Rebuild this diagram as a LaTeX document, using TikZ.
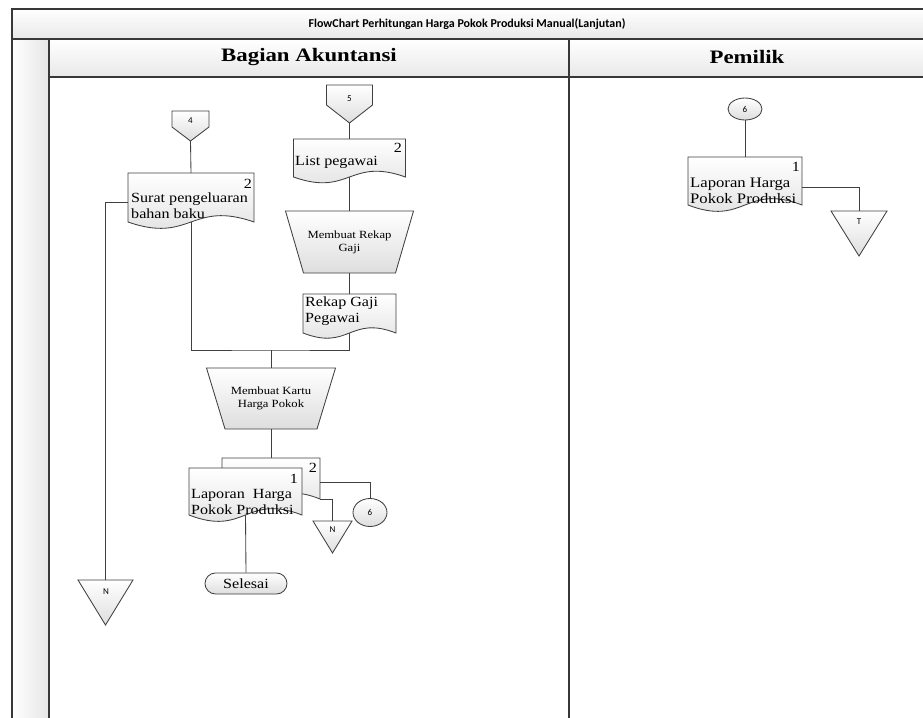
\documentclass[tikz,border=0pt]{standalone}
\usepackage{fontspec}
\setmainfont{Liberation Serif}
\newfontfamily\docfont[FakeStretch=1.15]{Liberation Serif}
\newfontfamily\headfont[FakeStretch=1.2]{Liberation Serif}
\newfontfamily\calfont{Carlito}
\usetikzlibrary{calc,shapes.geometric,shapes.misc}
\pgfdeclarelayer{frame}
\pgfdeclarelayer{bg}
\pgfsetlayers{frame,bg,main}

\tikzset{
  frameline/.style={draw=black!78, line width=1.8pt},
  wire/.style={draw=black!75, line width=0.85pt},
  shapefill/.style={draw=black!75, line width=0.85pt, top color=white, bottom color=black!13},
  box/.style={inner sep=0pt, outer sep=0pt},
  doctxt/.style={inner sep=0pt, anchor=west, align=left, font=\docfont\fontsize{14}{16}\selectfont},
  numtxt/.style={inner sep=0pt, font=\docfont\fontsize{14}{16}\selectfont},
  proctxt/.style={box, align=center, font=\docfont\fontsize{11}{13}\selectfont},
  conntxt/.style={inner sep=0pt, font=\calfont\fontsize{9}{10}\selectfont},
  ellnode/.style={ellipse, shapefill, inner sep=0pt, font=\calfont\fontsize{9}{10}\selectfont},
  endnode/.style={rounded rectangle, rounded rectangle arc length=180, shapefill, inner sep=0pt,
    minimum width=82, minimum height=21, font=\docfont\fontsize{14}{16}\selectfont},
  titletxt/.style={inner sep=0pt, font=\calfont\bfseries\fontsize{12}{14}\selectfont},
  lanetxt/.style={inner sep=0pt, font=\headfont\bfseries\fontsize{19}{22}\selectfont},
}

% document symbol with a wavy lower edge
\newcommand\docpath[2]{\path[shapefill] (#1.north west) -- (#1.north east) -- (#1.south east)
  .. controls ($(#1.south)+(0,-#2)$) and ($(#1.south)+(0,#2)$) .. (#1.south west) -- cycle;}
% manual operation (trapezoid narrowing downwards)
\newcommand\trappath[2]{\path[shapefill] (#1.north west) -- (#1.north east)
  -- ($(#1.south east)+(-#2,0)$) -- ($(#1.south west)+(#2,0)$) -- cycle;}
% archive triangle
\newcommand\tripath[1]{\path[shapefill] (#1.north west) -- (#1.north east) -- (#1.south) -- cycle;}
% off-page connector
\newcommand\offpath[2]{\path[shapefill] (#1.north west) -- (#1.north east)
  -- ($(#1.north east)+(0,#2)$) -- (#1.south) -- ($(#1.north west)+(0,#2)$) -- cycle;}

\begin{document}
\begin{tikzpicture}[x=1pt,y=-1pt]
\useasboundingbox (0,0) rectangle (923,717);
\clip (0,0) rectangle (923,717);

% swimlane frame
\begin{pgfonlayer}{frame}
  \fill[top color=white, bottom color=black!9] (12,9) rectangle (940,39);
  \fill[top color=white, bottom color=black!9] (49,39) rectangle (940,77);
  \fill[left color=white, right color=black!10] (12,39) rectangle (49,740);
  \draw[frameline] (940,9) -- (12,9) -- (12,740);
  \draw[frameline] (12,39) -- (940,39);
  \draw[frameline] (49,39) -- (49,740);
  \draw[frameline] (49,77) -- (940,77);
  \draw[frameline] (569,39) -- (569,740);
\end{pgfonlayer}

\node[titletxt] (title) at (467,24) {FlowChart Perhitungan Harga Pokok Produksi Manual(Lanjutan)};
\node[lanetxt] (laneA) at (309,57) {Bagian Akuntansi};
\node[lanetxt] (laneB) at (747,57) {Pemilik};

% Bagian Akuntansi
\node[box, minimum width=37, minimum height=30] (off4) at (190.5,126) {};
\node[conntxt] (off4t) at (190.5,121) {4};
\node[box, minimum width=126, minimum height=49] (surat) at (191,197.5) {};
\node[doctxt] (suratT) at (131,205.5) {Surat pengeluaran\\bahan baku};
\node[numtxt] (suratN) at (248,184) {2};
\node[box, minimum width=55, minimum height=45] (nLeft) at (105.5,602.5) {};
\node[conntxt] (nLeftT) at (106,592) {N};

\node[box, minimum width=46, minimum height=38] (off5) at (349.5,104) {};
\node[conntxt] (off5t) at (349.5,99) {5};
\node[box, minimum width=112, minimum height=38] (list) at (349.5,158) {};
\node[doctxt] (listT) at (295,162) {List pegawai};
\node[numtxt] (listN) at (398,148) {2};
\node[proctxt, minimum width=128, minimum height=62] (rekapP) at (349.5,242) {Membuat Rekap\\Gaji};
\node[box, minimum width=93, minimum height=39] (rekap) at (349.5,313.5) {};
\node[doctxt] (rekapT) at (305,311) {Rekap Gaji\\Pegawai};
\coordinate (jn) at (271,350);
\node[proctxt, minimum width=129, minimum height=61] (kartu) at (271,398.5) {Membuat Kartu\\Harga Pokok};
\node[box, minimum width=98, minimum height=41] (lapB) at (271,478.5) {};
\node[numtxt] (lapBN) at (313,468) {2};
\node[box, minimum width=113, minimum height=47] (lapF) at (245.5,491.5) {};
\node[doctxt] (lapFT) at (191,502) {Laporan~~Harga\\Pokok Produksi};
\node[numtxt] (lapFN) at (294,479) {1};
\node[ellnode, minimum width=34, minimum height=28] (c6a) at (370,512.5) {6};
\node[box, minimum width=39, minimum height=32] (nMid) at (332.5,537) {};
\node[conntxt] (nMidT) at (332.5,530) {N};
\node[endnode] (selesai) at (246,583.5) {Selesai};

% Pemilik
\node[ellnode, minimum width=34, minimum height=22] (c6b) at (745,109) {6};
\node[box, minimum width=114, minimum height=48] (lapP) at (745,181) {};
\node[doctxt, font=\docfont\fontsize{14.5}{16}\selectfont] (lapPT) at (690,190.5) {Laporan Harga\\Pokok Produksi};
\node[numtxt] (lapPN) at (796,167) {1};
\node[box, minimum width=56, minimum height=45] (triT) at (859,233.5) {};
\node[conntxt] (triTt) at (859,222) {T};

% symbols
\begin{pgfonlayer}{bg}
  \offpath{off4}{16}
  \offpath{off5}{20}
  \docpath{surat}{22}
  \docpath{list}{20}
  \trappath{rekapP}{18}
  \docpath{rekap}{18}
  \trappath{kartu}{18.5}
  \docpath{lapB}{20}
  \docpath{lapF}{22}
  \tripath{nLeft}
  \tripath{nMid}
  \docpath{lapP}{22}
  \tripath{triT}
\end{pgfonlayer}

% flow lines
\draw[wire] (off4.south) -- (surat.north);
\draw[wire] ($(surat.north west)+(0,29)$) -| (nLeft.north);
\draw[wire] (surat.south) |- (jn) -| (rekap.south);
\draw[wire] (jn) -- (kartu.north);
\draw[wire] (off5.south) -- (list.north);
\draw[wire] (list.south) -- (rekapP.north);
\draw[wire] (rekapP.south) -- (rekap.north);
\draw[wire] (kartu.south) -- (lapB.north);
\draw[wire] ($(lapB.north east)+(0,24)$) -| (c6a.north);
\draw[wire] (lapB.south east) -| (nMid.north);
\draw[wire] (lapF.south) -- (selesai.north);
\draw[wire] (c6b.south) -- (lapP.north);
\draw[wire] ($(lapP.north east)+(0,30)$) -| (triT.north);
\end{tikzpicture}
\end{document}
